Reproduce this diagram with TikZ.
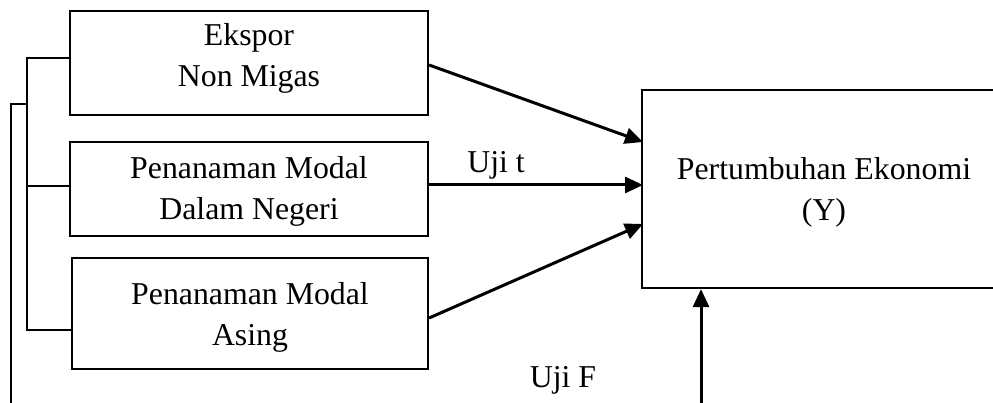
\documentclass[tikz,border=0pt]{standalone}
\usepackage{fontspec}
\setmainfont{Liberation Serif}
\usetikzlibrary{arrows.meta,calc}
\begin{document}
\begin{tikzpicture}[x=1pt,y=-1pt,
  txt/.style={font=\fontsize{31.8}{41}\selectfont},
  varbox/.style={draw,line width=2.2pt,inner sep=0pt},
  caption/.style={txt,align=center,inner sep=0pt},
  link/.style={line width=1.8pt},
  arr/.style={line width=3pt,-{Triangle[length=18pt,width=16pt]}}]
\useasboundingbox (0,0) rectangle (993,403);
\clip (0,0) rectangle (993,403);
% independent variables
\node[varbox,minimum width=358pt,minimum height=104pt] (ekspor) at (249,63) {};
\node[varbox,minimum width=358pt,minimum height=94pt] (pmdn) at (249,189) {};
\node[varbox,minimum width=356pt,minimum height=111pt] (pma) at (250,313.5) {};
\node[caption] (eksporT) at ($(ekspor.center)+(0,-5)$) {Ekspor\\Non Migas};
\node[caption] (pmdnT) at ($(pmdn.center)+(0,2)$) {Penanaman Modal\\Dalam Negeri};
\node[caption] (pmaT) at ($(pma.center)+(0,4)$) {Penanaman Modal\\Asing};
% dependent variable (box runs past the right edge)
\node[varbox,minimum width=368pt,minimum height=198pt] (growth) at (826,189) {};
\node[caption] (growthT) at ($(growth.center)+(-2,3)$) {Pertumbuhan Ekonomi\\(Y)};
% bracket joining the three variables
\coordinate (bt) at (27,58);
\coordinate (bm) at (27,186);
\coordinate (bb) at (27,330);
\draw[link] (ekspor.west |- bt) -- (bt) -- (bb) -- (pma.west |- bb);
\draw[link] (bm) -- (pmdn.west |- bm);
\coordinate (oj) at (27,104);
\coordinate (ob) at (11,410);
\draw[link] (oj) -- (ob |- oj) -- (ob);
% partial tests
\coordinate (e1) at (643,142);
\coordinate (e2) at (643,185);
\coordinate (e3) at (643,224);
\draw[arr] ($(ekspor.east)+(0,2)$) -- (e1);
\draw[arr] (pmdn.east |- e2) -- (e2);
\draw[arr] ($(pma.east)+(0,4.5)$) -- (e3);
\node[txt,anchor=base] (ujit) at (496,173) {Uji t};
% simultaneous test
\coordinate (fb) at (701,410);
\draw[arr] (fb) -- (fb |- growth.south);
\node[txt,anchor=base] (ujif) at (563,387) {Uji F};
\end{tikzpicture}
\end{document}
